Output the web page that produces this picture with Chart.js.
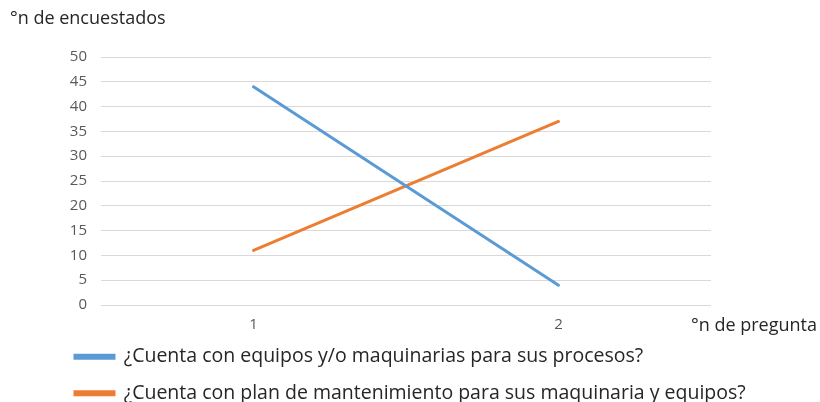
<!DOCTYPE html>
<html>
<head>
<meta charset="utf-8">
<script src="https://cdn.jsdelivr.net/npm/chart.js@4/dist/chart.umd.min.js"></script>
<style>
  html, body { margin: 0; padding: 0; background: #ffffff; }
  #wrap { width: 820px; height: 402px; position: relative; }
</style>
</head>
<body>
<div id="wrap"><canvas id="c" width="820" height="402"></canvas></div>
<script>
// Question numbers on the x axis
const categories = ['1', '2'];

// Number of respondents per question
const equiposValues = [44, 4];
const mantenimientoValues = [11, 37];

const seriesNames = [
  '¿Cuenta con equipos y/o maquinarias para sus procesos?',
  '¿Cuenta con plan de mantenimiento para sus maquinaria y equipos?'
];

const yTitle = '°n de encuestados';
const xTitle = '°n de pregunta';

const FONT = '"Open Sans", Lato, sans-serif';

// Axis titles: y title in the top-left corner, x title to the right of the plot
const axisTitles = {
  id: 'axisTitles',
  afterLayout(chart) {
    // pull the legend up closer to the axis labels and let it use the full width
    const lg = chart.legend;
    if (lg) {
      lg.top -= 9;
      lg.bottom -= 9;
      lg.right = chart.width;
      lg.width = lg.right - lg.left;
    }
  },
  afterDraw(chart) {
    const ctx = chart.ctx;
    const area = chart.chartArea;
    const xs = chart.scales.x;
    ctx.save();
    ctx.fillStyle = '#262626';
    ctx.font = '18px ' + FONT;
    ctx.textBaseline = 'middle';
    ctx.textAlign = 'left';
    ctx.fillText(yTitle, 10, 19);
    ctx.fillText(xTitle, area.right - 20, xs.top + 21);
    ctx.restore();
  }
};

new Chart(document.getElementById('c'), {
  type: 'line',
  data: {
    labels: categories,
    datasets: [
      {
        label: seriesNames[0],
        data: equiposValues,
        borderColor: '#5b9bd5',
        backgroundColor: '#5b9bd5',
        borderWidth: 3,
        borderCapStyle: 'round',
        pointRadius: 0,
        tension: 0
      },
      {
        label: seriesNames[1],
        data: mantenimientoValues,
        borderColor: '#ed7d31',
        backgroundColor: '#ed7d31',
        borderWidth: 3,
        borderCapStyle: 'round',
        pointRadius: 0,
        tension: 0
      }
    ]
  },
  options: {
    responsive: false,
    animation: false,
    devicePixelRatio: 1,
    layout: { padding: { top: 57, right: 109, left: 58, bottom: -20 } },
    scales: {
      x: {
        offset: true,
        grid: { display: false },
        border: { display: false },
        ticks: { color: '#595959', font: { family: FONT, size: 15 }, padding: 3 },
        afterFit(s) { s.height = 34; }
      },
      y: {
        min: 0,
        max: 50,
        grid: { color: '#d9d9d9', lineWidth: 1, drawTicks: false },
        border: { display: false },
        ticks: { stepSize: 5, color: '#595959', font: { family: FONT, size: 15 }, padding: 14 },
        afterFit(s) { s.width = 43; }
      }
    },
    plugins: {
      legend: {
        position: 'bottom',
        align: 'start',
        labels: {
          boxWidth: 39,
          boxHeight: 3,
          color: '#262626',
          font: { family: FONT, size: 19.5 },
          padding: 17
        }
      },
      tooltip: { enabled: false }
    }
  },
  plugins: [axisTitles]
});
</script>
</body>
</html>
